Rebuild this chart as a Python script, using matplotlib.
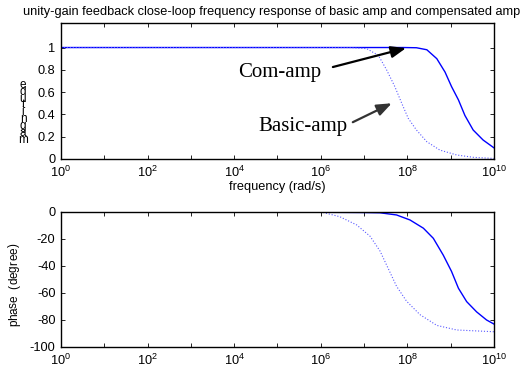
import numpy as np
import matplotlib

matplotlib.use('Agg')
import matplotlib.pyplot as plt

plt.rcParams['font.family'] = 'Liberation Sans'
plt.rcParams['mathtext.fontset'] = 'custom'
plt.rcParams['mathtext.rm'] = 'Liberation Sans'
plt.rcParams['mathtext.it'] = 'Liberation Sans'
plt.rcParams['axes.unicode_minus'] = False

# data (log10 of frequency in rad/s)
com_mag_logw = [0, 6, 7.5, 7.91, 8.21, 8.45, 8.68, 8.87, 9.02, 9.18, 9.33, 9.52, 9.75, 10]
com_mag = [1.0, 1.0, 1.0, 1.0, 0.998, 0.98, 0.90, 0.78, 0.65, 0.53, 0.39, 0.26, 0.17, 0.10]
basic_mag_logw = [0, 6, 6.67, 7.06, 7.33, 7.52, 7.71, 7.87, 8.02, 8.21, 8.45, 8.75, 9.14, 9.52, 10]
basic_mag = [1.0, 1.0, 1.0, 0.99, 0.93, 0.80, 0.65, 0.50, 0.365, 0.26, 0.155, 0.08, 0.036, 0.015, 0.005]

com_ph_logw = [0, 5, 6, 7, 7.37, 7.75, 8.06, 8.37, 8.6, 8.83, 9.02, 9.18, 9.37, 9.6, 9.83, 10]
com_ph = [0, -0.05, -0.2, -0.4, -0.6, -2.2, -5.9, -12, -19.5, -32, -44, -56.5, -66.4, -74, -80, -83]
basic_ph_logw = [0, 5.4, 6.06, 6.44, 6.83, 7.14, 7.37, 7.56, 7.75, 7.98, 8.29, 8.68, 9.14, 10]
basic_ph = [0, -0.05, -0.4, -3.5, -9.6, -18, -29, -42, -55, -66, -76, -84, -87.4, -88.7]

decades = np.arange(11)
xtick_labels = ['$10^{%d}$' % d if d % 2 == 0 else '' for d in decades]

fig = plt.figure(figsize=(5.28, 3.74), dpi=100)
ax1 = fig.add_axes([0.1155, 0.5749, 0.820, 0.3636])
ax2 = fig.add_axes([0.1155, 0.0722, 0.820, 0.361])

solid = dict(color='#0000ff', lw=1.0)
dotted = dict(color='#5a5aff', lw=0.8, ls=':')

ax1.semilogx(10.0 ** np.array(com_mag_logw), com_mag, **solid)
ax1.semilogx(10.0 ** np.array(basic_mag_logw), basic_mag, **dotted)
ax2.semilogx(10.0 ** np.array(com_ph_logw), com_ph, **solid)
ax2.semilogx(10.0 ** np.array(basic_ph_logw), basic_ph, **dotted)

for ax in (ax1, ax2):
  ax.set_xlim(1, 1e10)
  ax.set_xticks(10.0 ** decades)
  ax.set_xticklabels(xtick_labels)
  ax.minorticks_off()
  ax.tick_params(direction='in', length=3, width=0.6, top=True, right=True,
                 labelsize=9.2, pad=4)
  for s in ax.spines.values():
    s.set_linewidth(1.0)

ax1.set_ylim(0, 1.22)
ax1.set_yticks([0, 0.2, 0.4, 0.6, 0.8, 1])
ax1.set_yticklabels(['0', '0.2', '0.4', '0.6', '0.8', '1'])
ax2.set_ylim(-100, 0)
ax2.set_yticks([-100, -80, -60, -40, -20, 0])

ax1.set_title('unity-gain feedback close-loop frequency response of basic amp and compensated amp',
              fontsize=9.2, pad=6, x=0.486)
ax1.set_xlabel('frequency (rad/s)', fontsize=9.2, labelpad=1)

# annotations
ax1.text(10 ** 5.06, 0.78, 'Com-amp', family='Liberation Serif', fontsize=15,
         ha='center', va='center')
ax1.annotate('', xy=(10 ** 7.97, 0.995), xytext=(10 ** 6.28, 0.825),
             arrowprops=dict(arrowstyle='-|>,head_length=0.9,head_width=0.35',
                             color='black', lw=1.6, shrinkA=0, shrinkB=0))
ax1.text(10 ** 5.59, 0.29, 'Basic-amp', family='Liberation Serif', fontsize=15,
         ha='center', va='center')
ax1.annotate('', xy=(10 ** 7.64, 0.50), xytext=(10 ** 6.74, 0.33),
             arrowprops=dict(arrowstyle='-|>,head_length=0.9,head_width=0.35',
                             color='#333333', lw=1.6, shrinkA=0, shrinkB=0))

# squashed y labels
top_label = 'magnitude'
for i, ch in enumerate(top_label):
  y = 140 - i * 6.9
  fig.text(23 / 528, 1 - y / 374, ch, fontsize=8.5, ha='center', va='center')

bot_label = 'phase (degree)'
for i, ch in enumerate(bot_label):
  y = 323 - i * 6.0
  fig.text(14 / 528, 1 - y / 374, ch, fontsize=8.5, ha='center', va='center',
           rotation=90)

plt.savefig('out.png', dpi=100)
plt.close()
